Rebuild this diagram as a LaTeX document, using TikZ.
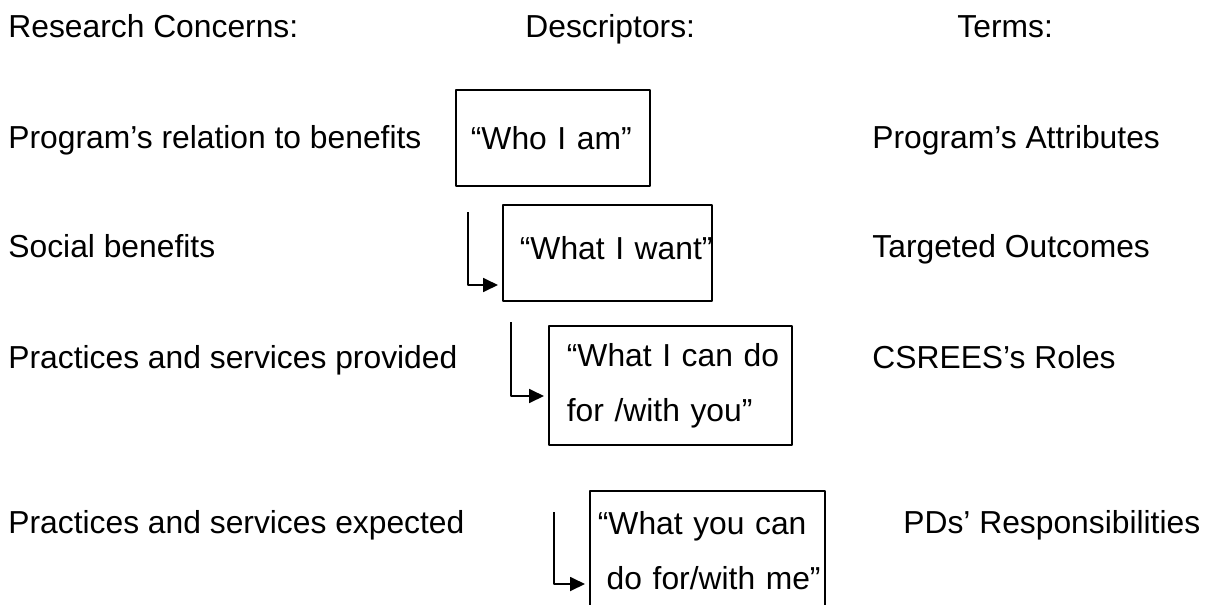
\documentclass[tikz,border=0pt]{standalone}
\usepackage{fontspec}
\setmainfont{Liberation Sans}
\usetikzlibrary{arrows.meta}
\begin{document}
\begin{tikzpicture}[x=0.5pt, y=-0.5pt, font=\fontsize{15.9pt}{27.5pt}\selectfont, line join=round, >={Triangle[length=7.5pt,width=7pt]},
	txt/.style={anchor=base west, inner sep=0pt},
	desc/.style={draw, line width=0.9pt, anchor=north west, inner ysep=0pt, align=left},
	link/.style={->, line width=0.9pt, shorten >=2pt}]
	%%%%%%%%%%%%%%%%%%%%%%%%%%%%%%%%%
	\useasboundingbox (0,0) rectangle (1205,605);
	\clip (0,0) rectangle (1205,605);
	%%%%%%%%%%%%%%%%%%%%%%%%%%%%%%%%%
	\coordinate (A1) at (468,212);
	\coordinate (K1) at (468,285);
	\coordinate (A2) at (511,322);
	\coordinate (K2) at (511,396);
	\coordinate (A3) at (554,512);
	\coordinate (K3) at (554,584);
	%%%%%%%%%%%%%%%%%%%%%%%%%%%%%%%%%
	\node[txt] (hrc) at (8,38) {Research Concerns:};
	\node[txt] (hds) at (525,38) {Descriptors:};
	\node[txt] (htm) at (957,38) {Terms:};
	%%%%%%%%%%%%%%%%%%%%%%%%%%%%%%%%%
	\node[txt] (rc1) at (8,148) {Program’s relation to benefits};
	\node[txt] (rc2) at (8,257) {Social benefits};
	\node[txt] (rc3) at (8,368) {Practices and services provided};
	\node[txt] (rc4) at (8,533) {Practices and services expected};
	%%%%%%%%%%%%%%%%%%%%%%%%%%%%%%%%%
	\node[txt] (tm1) at (872,148) {Program’s Attributes};
	\node[txt] (tm2) at (872,257) {Targeted Outcomes};
	\node[txt] (tm3) at (872,368) {CSREES’s Roles};
	\node[txt] (tm4) at (903,533) {PDs’ Responsibilities};
	%%%%%%%%%%%%%%%%%%%%%%%%%%%%%%%%%
	\node[desc, inner xsep=7.5pt, text width=82pt, minimum height=48pt] (ds1) at (455,89) {“Who I am”};
	\node[desc, inner xsep=8.5pt, text width=87.5pt, minimum height=48pt, text depth=5pt] (ds2) at (502,204) {\mbox{“What I want”}};
	\node[desc, inner xsep=9pt, text width=103.5pt, minimum height=59.5pt] (ds3) at (548,325) {\mbox{“What I can do}\\for /with you”};
	\node[desc, inner xsep=4pt, text width=109.5pt, minimum height=59.5pt] (ds4) at (589,490) {“What you can\\\mbox{\hspace*{0.278em}do for/with me”}};
	%%%%%%%%%%%%%%%%%%%%%%%%%%%%%%%%%
	\draw[link] (A1) -- (K1) -- (K1 -| ds2.west);
	\draw[link] (A2) -- (K2) -- (K2 -| ds3.west);
	\draw[link] (A3) -- (K3) -- (K3 -| ds4.west);
	%%%%%%%%%%%%%%%%%%%%%%%%%%%%%%%%%
\end{tikzpicture}
\end{document}
